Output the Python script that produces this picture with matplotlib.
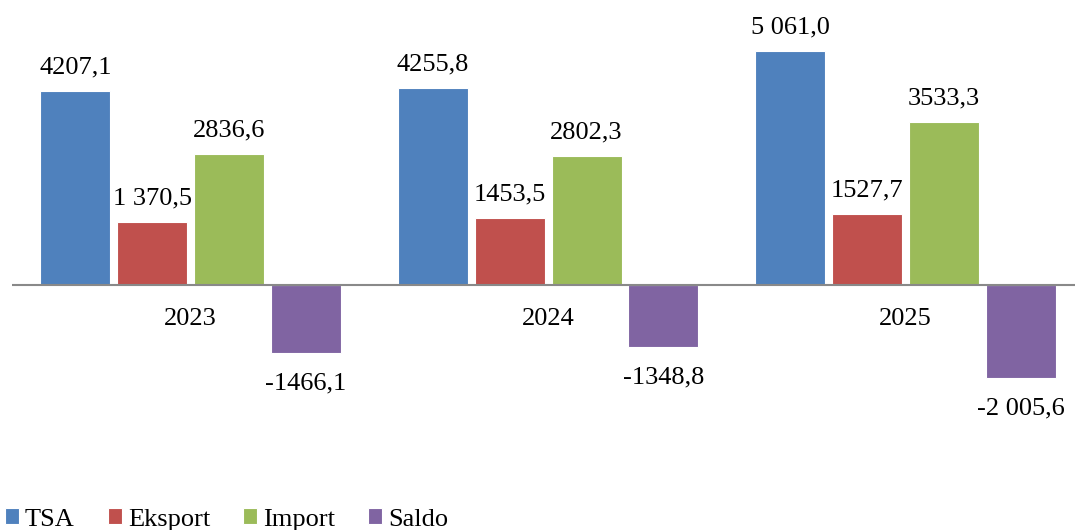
import matplotlib
matplotlib.use("Agg")
import matplotlib.pyplot as plt
import numpy as np

years = ["2023", "2024", "2025"]
series = ["TSA", "Eksport", "Import", "Saldo"]
colors = ["#4F81BD", "#C0504D", "#9BBB59", "#8064A2"]

tsa = [4207.1, 4255.8, 5061.0]
eksport = [1370.5, 1453.5, 1527.7]
import_ = [2836.6, 2802.3, 3533.3]
saldo = [-1466.1, -1348.8, -2005.6]

tsa_lbl = ["4207,1", "4255,8", "5 061,0"]
eksport_lbl = ["1 370,5", "1453,5", "1527,7"]
import_lbl = ["2836,6", "2802,3", "3533,3"]
saldo_lbl = ["-1466,1", "-1348,8", "-2 005,6"]

values = [tsa, eksport, import_, saldo]
labels = [tsa_lbl, eksport_lbl, import_lbl, saldo_lbl]

plt.rcParams['font.family'] = ['Liberation Serif', 'DejaVu Serif']

W, H = 1075, 530
fig = plt.figure(figsize=(W / 100, H / 100), dpi=100)
ax = fig.add_axes([12 / W, 0, 1 - 12 / W, 1])

scale = 194 / 4207.1          # px per unit
ax.set_ylim(-(H - 285.5) / scale, 284.5 / scale)
ax.set_xlim(-0.5, (W - 190.5) / 357.5)

x = np.arange(len(years))
step = 0.215
width = 0.196
fs = 19
for k, (name, vals, lbls, c) in enumerate(zip(series, values, labels, colors)):
    pos = x + (k - 1.5) * step
    ax.bar(pos, vals, width, color=c, edgecolor="white", linewidth=0.8, label=name, zorder=2)
    for p, v, t in zip(pos, vals, lbls):
        off = 17 if v >= 0 else -22
        ax.annotate(t, (p, v), xytext=(0, off), textcoords="offset points",
                    ha="center", va="center", fontsize=fs)

ax.axhline(0, color="#898989", linewidth=1.5, zorder=3)
for xi, y in zip(x, years):
    ax.annotate(y, (xi, 0), xytext=(0, -24.5), textcoords="offset points",
                ha="center", va="center", fontsize=fs)

ax.axis("off")

fig.legend(loc="center left", bbox_to_anchor=(5 / W, 1 - 519.5 / H), ncol=4, frameon=False,
           fontsize=fs, handlelength=0.53, handleheight=0.53, handletextpad=0.23,
           columnspacing=1.25, borderaxespad=0, borderpad=0)

fig.savefig("out.png", dpi=100)
